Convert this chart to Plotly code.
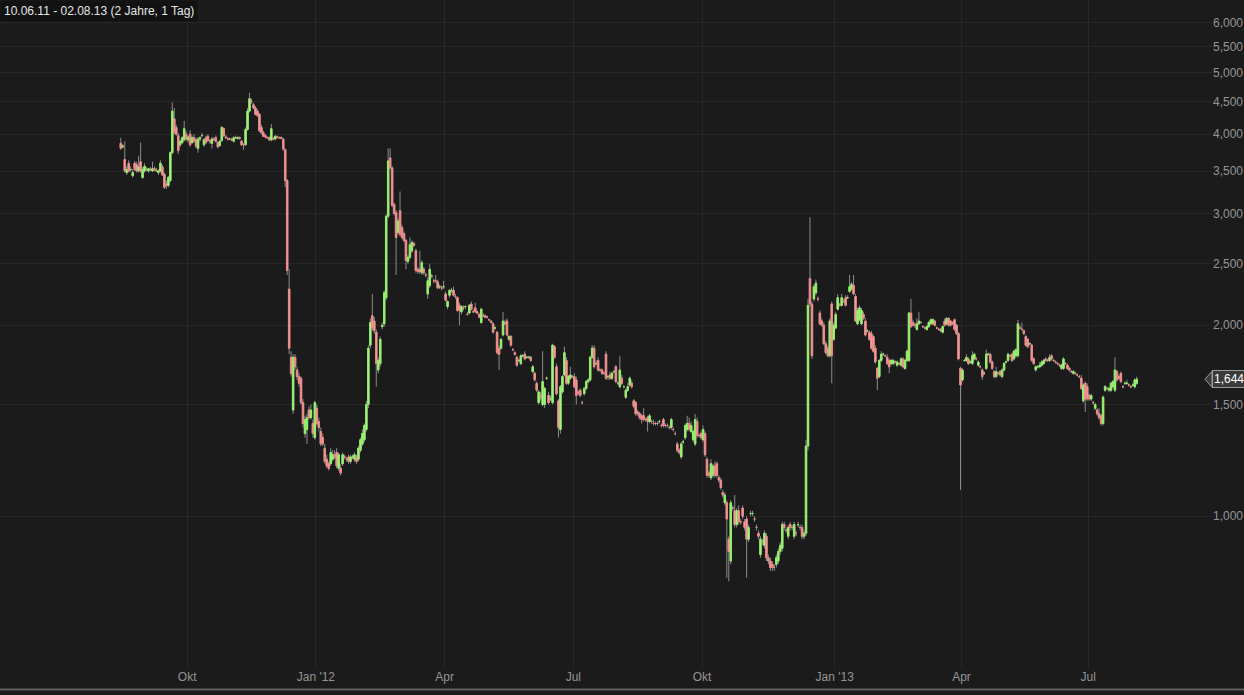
import math
import pandas as pd
import plotly.graph_objects as go

# ---------------- data (EUR, daily) ----------------
first_day = "2011-08-16"

opens = [
    3.87, 3.82, 3.65, 3.48, 3.60, 3.52, 3.44, 3.60, 3.58, 3.50,
    3.62, 3.42, 3.50, 3.52, 3.50, 3.52, 3.50, 3.53, 3.51, 3.48,
    3.50, 3.55, 3.46, 3.34, 3.32, 3.38, 3.74, 4.23, 4.10, 3.98,
    3.85, 3.88, 3.92, 4.00, 3.92, 4.00, 3.88, 3.95, 3.92, 3.80,
    3.93, 3.98, 3.85, 3.95, 3.97, 3.90, 3.87, 3.93, 3.95, 3.88,
    3.84, 3.91, 4.08, 3.96, 3.93, 3.93, 3.92, 3.90, 3.95, 3.94,
    3.95, 3.90, 3.85, 3.85, 4.07, 4.35, 4.50, 4.45, 4.40, 4.35,
    4.30, 4.10, 4.02, 3.98, 3.95, 3.95, 3.92, 3.93, 3.93, 3.96,
    3.95, 3.95, 3.93, 3.78, 3.38, 2.28, 1.78, 1.47, 1.78, 1.70,
    1.66, 1.65, 1.51, 1.35, 1.37, 1.47, 1.43, 1.40, 1.33, 1.48,
    1.41, 1.36, 1.33, 1.28, 1.23, 1.21, 1.21, 1.23, 1.25, 1.26,
    1.19, 1.19, 1.21, 1.24, 1.23, 1.24, 1.22, 1.24, 1.23, 1.24,
    1.23, 1.27, 1.30, 1.32, 1.37, 1.50, 1.86, 2.07, 2.03, 1.95,
    1.70, 1.74, 1.99, 2.01, 2.21, 2.97, 3.67, 3.54, 3.10, 3.01,
    2.80, 3.03, 2.85, 2.79, 2.72, 2.52, 2.56, 2.62, 2.69, 2.62,
    2.45, 2.45, 2.42, 2.45, 2.40, 2.24, 2.31, 2.39, 2.35, 2.35,
    2.34, 2.30, 2.29, 2.30, 2.24, 2.14, 2.23, 2.27, 2.27, 2.22,
    2.21, 2.15, 2.10, 2.13, 2.14, 2.08, 2.09, 2.16, 2.10, 2.13,
    2.10, 2.08, 2.02, 2.07, 2.07, 2.06, 2.04, 2.03, 2.01, 1.98,
    1.95, 1.84, 1.84, 1.93, 2.02, 2.03, 1.90, 1.92, 1.83, 1.81,
    1.78, 1.76, 1.74, 1.79, 1.80, 1.78, 1.78, 1.78, 1.69, 1.68,
    1.62, 1.51, 1.55, 1.50, 1.50, 1.65, 1.55, 1.53, 1.51, 1.85,
    1.72, 1.52, 1.37, 1.57, 1.67, 1.76, 1.62, 1.65, 1.66, 1.66,
    1.64, 1.57, 1.58, 1.51, 1.56, 1.59, 1.63, 1.64, 1.78, 1.84,
    1.74, 1.76, 1.70, 1.70, 1.68, 1.80, 1.66, 1.67, 1.65, 1.69,
    1.72, 1.62, 1.60, 1.65, 1.60, 1.54, 1.58, 1.61, 1.62, 1.52,
    1.51, 1.46, 1.45, 1.44, 1.44, 1.42, 1.43, 1.41, 1.41, 1.40,
    1.40, 1.40, 1.41, 1.39, 1.42, 1.39, 1.39, 1.38, 1.38, 1.37,
    1.35, 1.30, 1.27, 1.24, 1.31, 1.33, 1.37, 1.40, 1.36, 1.32,
    1.30, 1.41, 1.34, 1.35, 1.32, 1.35, 1.23, 1.17, 1.15, 1.16,
    1.20, 1.21, 1.15, 1.14, 1.09, 1.05, 1.05, 0.92, 0.85, 1.03,
    1.02, 0.97, 1.02, 0.98, 1.03, 0.98, 0.99, 0.92, 1.01, 1.01,
    0.99, 0.96, 0.94, 0.87, 0.91, 0.90, 0.93, 0.86, 0.85, 0.84,
    0.83, 0.84, 0.85, 0.88, 0.89, 0.97, 0.95, 0.93, 0.97, 0.96,
    0.93, 0.94, 0.97, 0.96, 0.96, 0.93, 0.94, 1.29, 2.37, 2.16,
    2.20, 2.25, 2.20, 2.09, 2.03, 2.00, 1.87, 1.84, 1.79, 2.16,
    1.90, 1.98, 2.12, 2.15, 2.15, 2.18, 2.21, 2.21, 2.26, 2.28,
    2.31, 2.22, 2.01, 2.04, 2.01, 2.08, 2.03, 1.96, 1.95, 1.94,
    1.92, 1.84, 1.71, 1.66, 1.76, 1.80, 1.79, 1.78, 1.76, 1.74,
    1.74, 1.75, 1.73, 1.74, 1.73, 1.77, 1.71, 1.76, 1.76, 2.09,
    2.02, 2.00, 1.97, 2.01, 2.02, 1.99, 1.98, 1.97, 1.99, 2.01,
    2.01, 2.03, 1.98, 1.97, 1.97, 1.95, 2.03, 2.01, 2.05, 2.03,
    2.02, 2.04, 2.00, 1.94, 1.71, 1.64, 1.76, 1.76, 1.77, 1.75,
    1.74, 1.77, 1.77, 1.73, 1.72, 1.70, 1.68, 1.71, 1.80, 1.80,
    1.75, 1.69, 1.66, 1.68, 1.69, 1.66, 1.70, 1.75, 1.76, 1.79,
    1.80, 1.77, 1.79, 1.79, 1.98, 1.97, 1.96, 1.92, 1.90, 1.87,
    1.86, 1.77, 1.70, 1.72, 1.72, 1.73, 1.74, 1.77, 1.76, 1.76,
    1.79, 1.76, 1.75, 1.74, 1.73, 1.71, 1.71, 1.74, 1.73, 1.71,
    1.69, 1.68, 1.68, 1.67, 1.66, 1.65, 1.52, 1.62, 1.60, 1.55,
    1.53, 1.51, 1.48, 1.47, 1.45, 1.44, 1.40, 1.58, 1.59, 1.58,
    1.58, 1.60, 1.58, 1.69, 1.66, 1.68, 1.60, 1.62, 1.62, 1.61,
    1.60, 1.61, 1.60, 1.62,
]

highs = [
    3.95, 3.86, 3.90, 3.56, 3.64, 3.56, 3.52, 3.63, 3.62, 3.70,
    3.88, 3.55, 3.60, 3.55, 3.54, 3.55, 3.62, 3.56, 3.54, 3.52,
    3.64, 3.58, 3.48, 3.38, 3.44, 3.76, 4.49, 4.40, 4.14, 4.02,
    3.92, 3.97, 4.20, 4.04, 3.98, 4.06, 3.98, 4.00, 3.95, 3.96,
    3.97, 4.02, 3.94, 3.98, 4.00, 3.93, 3.96, 3.96, 3.98, 3.90,
    3.92, 4.12, 4.10, 3.99, 3.96, 3.95, 3.95, 3.97, 3.98, 3.97,
    3.97, 3.92, 3.87, 4.10, 4.40, 4.65, 4.55, 4.48, 4.43, 4.38,
    4.32, 4.14, 4.05, 4.00, 3.97, 3.97, 4.15, 3.96, 3.99, 3.98,
    3.97, 3.97, 3.95, 3.80, 3.40, 2.45, 1.82, 1.80, 1.80, 1.72,
    1.68, 1.66, 1.53, 1.44, 1.45, 1.49, 1.50, 1.42, 1.52, 1.50,
    1.43, 1.38, 1.35, 1.30, 1.25, 1.22, 1.28, 1.27, 1.27, 1.28,
    1.26, 1.21, 1.26, 1.25, 1.24, 1.25, 1.25, 1.25, 1.26, 1.25,
    1.29, 1.33, 1.37, 1.40, 1.52, 1.86, 2.05, 2.24, 2.06, 1.97,
    1.78, 1.92, 2.02, 2.27, 2.99, 3.80, 3.80, 3.56, 3.12, 3.04,
    2.95, 3.25, 2.88, 2.81, 2.74, 2.58, 2.75, 2.72, 2.71, 2.64,
    2.47, 2.62, 2.53, 2.47, 2.42, 2.38, 2.50, 2.41, 2.37, 2.40,
    2.36, 2.32, 2.31, 2.35, 2.26, 2.19, 2.28, 2.29, 2.30, 2.24,
    2.22, 2.17, 2.15, 2.15, 2.15, 2.10, 2.16, 2.18, 2.12, 2.17,
    2.11, 2.09, 2.13, 2.09, 2.08, 2.07, 2.05, 2.04, 2.02, 1.99,
    1.96, 1.86, 1.91, 2.10, 2.04, 2.05, 1.93, 1.93, 1.84, 1.82,
    1.79, 1.77, 1.80, 1.80, 1.82, 1.79, 1.79, 1.79, 1.73, 1.69,
    1.63, 1.58, 1.57, 1.82, 1.60, 1.66, 1.57, 1.55, 1.87, 1.86,
    1.74, 1.53, 1.61, 1.67, 1.85, 1.78, 1.67, 1.72, 1.67, 1.68,
    1.66, 1.58, 1.59, 1.52, 1.60, 1.64, 1.65, 1.79, 1.86, 1.86,
    1.76, 1.78, 1.71, 1.71, 1.69, 1.82, 1.67, 1.69, 1.69, 1.70,
    1.73, 1.63, 1.79, 1.67, 1.61, 1.59, 1.62, 1.66, 1.64, 1.53,
    1.52, 1.47, 1.46, 1.45, 1.48, 1.43, 1.44, 1.45, 1.42, 1.42,
    1.41, 1.41, 1.42, 1.40, 1.43, 1.40, 1.40, 1.39, 1.43, 1.38,
    1.36, 1.31, 1.28, 1.31, 1.32, 1.40, 1.44, 1.43, 1.41, 1.37,
    1.45, 1.43, 1.35, 1.36, 1.39, 1.36, 1.24, 1.18, 1.23, 1.21,
    1.22, 1.22, 1.16, 1.15, 1.10, 1.09, 1.06, 0.93, 1.06, 1.04,
    1.08, 1.03, 1.04, 0.99, 1.04, 0.99, 1.00, 0.97, 1.02, 1.02,
    1.00, 0.97, 0.95, 0.93, 0.92, 0.95, 0.94, 0.87, 0.86, 0.85,
    0.84, 0.87, 0.89, 0.91, 0.98, 0.98, 0.96, 0.97, 0.98, 0.97,
    0.98, 0.95, 0.98, 0.97, 0.97, 0.95, 1.32, 2.20, 2.96, 2.18,
    2.32, 2.36, 2.22, 2.11, 2.05, 2.02, 1.89, 1.86, 2.05, 2.18,
    2.02, 2.10, 2.24, 2.17, 2.24, 2.20, 2.23, 2.23, 2.40, 2.34,
    2.40, 2.24, 2.13, 2.15, 2.13, 2.10, 2.05, 1.97, 1.96, 1.96,
    1.93, 1.86, 1.72, 1.77, 1.82, 1.81, 1.80, 1.80, 1.77, 1.77,
    1.77, 1.76, 1.76, 1.75, 1.78, 1.78, 1.77, 1.83, 2.10, 2.20,
    2.04, 2.02, 2.05, 2.10, 2.03, 2.00, 1.99, 2.00, 2.03, 2.05,
    2.05, 2.04, 1.99, 1.98, 1.98, 2.00, 2.05, 2.06, 2.06, 2.04,
    2.03, 2.05, 2.01, 1.95, 1.72, 1.71, 1.77, 1.80, 1.78, 1.76,
    1.82, 1.81, 1.78, 1.76, 1.73, 1.71, 1.69, 1.83, 1.81, 1.81,
    1.76, 1.70, 1.72, 1.69, 1.70, 1.71, 1.75, 1.76, 1.81, 1.80,
    1.81, 1.83, 1.84, 2.04, 2.00, 2.02, 1.97, 1.93, 1.91, 1.88,
    1.87, 1.78, 1.73, 1.73, 1.75, 1.76, 1.77, 1.78, 1.77, 1.80,
    1.80, 1.77, 1.76, 1.75, 1.74, 1.74, 1.78, 1.75, 1.74, 1.72,
    1.70, 1.70, 1.69, 1.68, 1.67, 1.67, 1.62, 1.63, 1.62, 1.56,
    1.56, 1.52, 1.51, 1.48, 1.48, 1.45, 1.55, 1.61, 1.60, 1.60,
    1.63, 1.64, 1.78, 1.70, 1.67, 1.69, 1.61, 1.63, 1.64, 1.62,
    1.61, 1.62, 1.65, 1.66,
]

lows = [
    3.78, 3.80, 3.48, 3.45, 3.48, 3.49, 3.42, 3.50, 3.48, 3.48,
    3.48, 3.40, 3.48, 3.50, 3.48, 3.50, 3.49, 3.50, 3.49, 3.45,
    3.48, 3.44, 3.28, 3.28, 3.30, 3.36, 3.72, 4.00, 3.98, 3.72,
    3.82, 3.86, 3.90, 3.90, 3.88, 3.82, 3.86, 3.88, 3.80, 3.74,
    3.90, 3.96, 3.82, 3.86, 3.89, 3.86, 3.80, 3.90, 3.88, 3.80,
    3.82, 3.89, 3.96, 3.93, 3.91, 3.91, 3.90, 3.88, 3.93, 3.92,
    3.92, 3.83, 3.78, 3.84, 4.05, 4.33, 4.47, 4.38, 4.28, 4.26,
    4.03, 4.00, 3.96, 3.94, 3.93, 3.90, 3.90, 3.91, 3.92, 3.94,
    3.93, 3.93, 3.77, 3.30, 2.40, 1.80, 1.66, 1.45, 1.70, 1.64,
    1.60, 1.50, 1.38, 1.33, 1.30, 1.42, 1.42, 1.33, 1.32, 1.39,
    1.36, 1.29, 1.29, 1.21, 1.19, 1.18, 1.20, 1.22, 1.23, 1.19,
    1.18, 1.16, 1.20, 1.23, 1.22, 1.21, 1.21, 1.23, 1.22, 1.21,
    1.22, 1.26, 1.29, 1.31, 1.36, 1.48, 1.84, 1.96, 1.94, 1.60,
    1.68, 1.72, 1.97, 1.99, 2.19, 2.95, 3.52, 3.07, 2.98, 2.40,
    2.78, 2.76, 2.73, 2.70, 2.45, 2.50, 2.54, 2.60, 2.66, 2.42,
    2.41, 2.41, 2.40, 2.40, 2.38, 2.20, 2.29, 2.37, 2.33, 2.33,
    2.28, 2.28, 2.27, 2.28, 2.18, 2.12, 2.21, 2.25, 2.22, 2.20,
    2.10, 2.00, 2.08, 2.11, 2.12, 2.07, 2.08, 2.11, 2.09, 2.09,
    2.08, 2.05, 2.01, 2.06, 2.05, 2.05, 2.03, 2.01, 1.94, 1.97,
    1.80, 1.70, 1.83, 1.92, 2.00, 1.92, 1.89, 1.85, 1.82, 1.79,
    1.72, 1.75, 1.73, 1.78, 1.76, 1.77, 1.77, 1.75, 1.68, 1.63,
    1.57, 1.50, 1.52, 1.49, 1.48, 1.64, 1.50, 1.52, 1.50, 1.77,
    1.55, 1.33, 1.35, 1.56, 1.66, 1.61, 1.61, 1.64, 1.65, 1.59,
    1.50, 1.55, 1.54, 1.50, 1.55, 1.58, 1.62, 1.63, 1.77, 1.71,
    1.73, 1.69, 1.69, 1.67, 1.67, 1.64, 1.64, 1.64, 1.64, 1.68,
    1.62, 1.61, 1.59, 1.61, 1.59, 1.53, 1.57, 1.60, 1.59, 1.48,
    1.44, 1.44, 1.42, 1.40, 1.41, 1.41, 1.36, 1.40, 1.40, 1.39,
    1.39, 1.39, 1.40, 1.38, 1.38, 1.38, 1.38, 1.37, 1.37, 1.36,
    1.34, 1.26, 1.25, 1.23, 1.30, 1.32, 1.36, 1.36, 1.35, 1.31,
    1.29, 1.33, 1.33, 1.32, 1.31, 1.24, 1.15, 1.15, 1.14, 1.15,
    1.15, 1.15, 1.13, 1.10, 1.07, 1.04, 0.80, 0.79, 0.84, 1.02,
    0.96, 0.96, 0.97, 0.97, 0.99, 0.95, 0.80, 0.91, 1.00, 1.00,
    0.98, 0.95, 0.92, 0.86, 0.90, 0.89, 0.85, 0.84, 0.82, 0.82,
    0.82, 0.83, 0.84, 0.87, 0.88, 0.95, 0.94, 0.92, 0.95, 0.95,
    0.92, 0.93, 0.96, 0.95, 0.92, 0.92, 0.93, 1.27, 2.14, 1.77,
    2.18, 2.23, 2.18, 2.00, 1.99, 1.86, 1.80, 1.78, 1.78, 1.62,
    1.89, 1.97, 2.11, 2.14, 2.14, 2.17, 2.14, 2.20, 2.25, 2.27,
    2.23, 2.03, 2.00, 2.03, 2.00, 2.04, 1.92, 1.95, 1.89, 1.83,
    1.81, 1.74, 1.58, 1.65, 1.75, 1.79, 1.78, 1.73, 1.68, 1.73,
    1.73, 1.74, 1.72, 1.73, 1.72, 1.71, 1.70, 1.75, 1.75, 1.98,
    1.99, 1.98, 1.96, 2.00, 2.01, 1.98, 1.97, 1.96, 1.98, 2.00,
    2.00, 1.99, 1.97, 1.96, 1.95, 1.94, 1.99, 2.00, 1.99, 1.99,
    2.00, 1.96, 1.93, 1.76, 1.10, 1.63, 1.75, 1.75, 1.73, 1.74,
    1.73, 1.76, 1.76, 1.72, 1.71, 1.64, 1.67, 1.70, 1.79, 1.74,
    1.70, 1.65, 1.65, 1.67, 1.66, 1.65, 1.69, 1.74, 1.75, 1.78,
    1.75, 1.76, 1.78, 1.78, 1.97, 1.96, 1.93, 1.85, 1.84, 1.86,
    1.75, 1.73, 1.69, 1.71, 1.71, 1.72, 1.73, 1.75, 1.75, 1.75,
    1.76, 1.75, 1.74, 1.73, 1.72, 1.70, 1.70, 1.73, 1.70, 1.69,
    1.68, 1.67, 1.67, 1.66, 1.65, 1.58, 1.51, 1.46, 1.52, 1.52,
    1.52, 1.50, 1.47, 1.44, 1.42, 1.39, 1.39, 1.57, 1.58, 1.57,
    1.57, 1.59, 1.57, 1.63, 1.64, 1.62, 1.59, 1.61, 1.61, 1.60,
    1.59, 1.60, 1.59, 1.61,
]

closes = [
    3.80, 3.83, 3.50, 3.52, 3.50, 3.52, 3.48, 3.52, 3.50, 3.55,
    3.50, 3.52, 3.56, 3.52, 3.53, 3.52, 3.53, 3.52, 3.50, 3.50,
    3.60, 3.45, 3.30, 3.32, 3.42, 3.74, 4.35, 4.02, 4.00, 3.77,
    3.90, 3.95, 4.08, 3.93, 3.96, 3.85, 3.95, 3.90, 3.83, 3.93,
    3.95, 3.98, 3.92, 3.88, 3.91, 3.90, 3.93, 3.92, 3.90, 3.82,
    3.90, 4.10, 3.98, 3.95, 3.93, 3.93, 3.92, 3.95, 3.95, 3.95,
    3.94, 3.85, 3.85, 4.07, 4.35, 4.55, 4.50, 4.40, 4.30, 4.28,
    4.05, 4.02, 3.97, 3.96, 3.95, 3.92, 4.08, 3.93, 3.97, 3.96,
    3.95, 3.94, 3.79, 3.38, 2.44, 1.84, 1.68, 1.78, 1.72, 1.66,
    1.62, 1.51, 1.40, 1.42, 1.43, 1.43, 1.47, 1.35, 1.51, 1.40,
    1.38, 1.30, 1.30, 1.22, 1.20, 1.19, 1.26, 1.25, 1.24, 1.20,
    1.25, 1.17, 1.25, 1.24, 1.23, 1.22, 1.24, 1.24, 1.25, 1.22,
    1.28, 1.32, 1.35, 1.39, 1.50, 1.84, 2.02, 1.98, 1.96, 1.74,
    1.76, 1.90, 2.00, 2.25, 2.97, 3.63, 3.54, 3.09, 3.00, 2.75,
    2.92, 2.78, 2.75, 2.72, 2.53, 2.56, 2.68, 2.70, 2.67, 2.44,
    2.43, 2.43, 2.51, 2.42, 2.40, 2.35, 2.45, 2.39, 2.35, 2.35,
    2.29, 2.30, 2.29, 2.30, 2.19, 2.18, 2.27, 2.27, 2.23, 2.22,
    2.11, 2.11, 2.14, 2.13, 2.14, 2.08, 2.15, 2.12, 2.10, 2.10,
    2.09, 2.06, 2.12, 2.07, 2.06, 2.06, 2.04, 2.02, 1.95, 1.98,
    1.81, 1.80, 1.90, 2.03, 2.01, 1.93, 1.92, 1.86, 1.83, 1.80,
    1.73, 1.76, 1.79, 1.79, 1.77, 1.78, 1.78, 1.76, 1.72, 1.64,
    1.58, 1.57, 1.54, 1.63, 1.59, 1.65, 1.51, 1.53, 1.86, 1.78,
    1.56, 1.38, 1.60, 1.66, 1.81, 1.62, 1.66, 1.67, 1.66, 1.60,
    1.55, 1.56, 1.55, 1.51, 1.59, 1.63, 1.64, 1.78, 1.84, 1.72,
    1.74, 1.70, 1.70, 1.68, 1.68, 1.65, 1.66, 1.65, 1.68, 1.69,
    1.63, 1.62, 1.70, 1.62, 1.60, 1.58, 1.60, 1.65, 1.60, 1.49,
    1.45, 1.45, 1.43, 1.42, 1.42, 1.42, 1.41, 1.44, 1.41, 1.40,
    1.40, 1.40, 1.41, 1.39, 1.39, 1.39, 1.39, 1.38, 1.42, 1.37,
    1.35, 1.27, 1.26, 1.30, 1.31, 1.39, 1.40, 1.37, 1.39, 1.36,
    1.42, 1.34, 1.34, 1.33, 1.37, 1.25, 1.16, 1.16, 1.21, 1.20,
    1.16, 1.16, 1.14, 1.11, 1.08, 1.08, 0.99, 0.88, 1.05, 1.03,
    0.97, 1.02, 0.98, 0.98, 1.00, 0.96, 0.92, 0.96, 1.01, 1.01,
    0.99, 0.96, 0.93, 0.92, 0.91, 0.94, 0.86, 0.85, 0.83, 0.83,
    0.83, 0.86, 0.88, 0.90, 0.97, 0.96, 0.95, 0.96, 0.96, 0.96,
    0.97, 0.94, 0.97, 0.96, 0.93, 0.94, 1.29, 2.15, 2.16, 1.79,
    2.30, 2.33, 2.20, 2.01, 2.00, 1.87, 1.81, 1.79, 2.03, 1.79,
    2.00, 2.08, 2.21, 2.15, 2.21, 2.18, 2.15, 2.21, 2.30, 2.32,
    2.24, 2.03, 2.11, 2.13, 2.11, 2.05, 1.93, 1.96, 1.90, 1.84,
    1.82, 1.75, 1.65, 1.76, 1.80, 1.80, 1.79, 1.74, 1.72, 1.76,
    1.76, 1.75, 1.75, 1.74, 1.77, 1.72, 1.76, 1.82, 2.09, 1.99,
    2.00, 2.00, 2.01, 2.03, 2.02, 1.99, 1.98, 1.99, 2.02, 2.04,
    2.04, 2.00, 1.98, 1.97, 1.96, 1.99, 2.00, 2.05, 2.00, 2.00,
    2.01, 1.97, 1.94, 1.77, 1.61, 1.70, 1.76, 1.78, 1.74, 1.75,
    1.79, 1.80, 1.77, 1.75, 1.72, 1.66, 1.68, 1.80, 1.80, 1.75,
    1.71, 1.66, 1.69, 1.68, 1.67, 1.70, 1.74, 1.75, 1.80, 1.79,
    1.76, 1.82, 1.83, 2.01, 1.98, 1.97, 1.94, 1.86, 1.85, 1.87,
    1.76, 1.74, 1.72, 1.72, 1.73, 1.75, 1.76, 1.76, 1.76, 1.78,
    1.77, 1.76, 1.75, 1.74, 1.73, 1.73, 1.77, 1.74, 1.71, 1.70,
    1.69, 1.69, 1.68, 1.67, 1.66, 1.59, 1.61, 1.53, 1.53, 1.53,
    1.55, 1.51, 1.50, 1.45, 1.43, 1.40, 1.54, 1.60, 1.59, 1.59,
    1.62, 1.63, 1.70, 1.64, 1.65, 1.63, 1.60, 1.62, 1.62, 1.61,
    1.60, 1.61, 1.64, 1.644,
]

price_ticks = [1.0, 1.5, 2.0, 2.5, 3.0, 3.5, 4.0, 4.5, 5.0, 5.5, 6.0, 6.5]
price_tick_labels = ["1,000", "1,500", "2,000", "2,500", "3,000", "3,500",
                     "4,000", "4,500", "5,000", "5,500", "6,000", "6,500"]
month_ticks = ["2011-10-03", "2012-01-02", "2012-04-02", "2012-07-02",
               "2012-10-01", "2013-01-02", "2013-04-02", "2013-07-01"]
month_labels = ["Okt", "Jan '12", "Apr", "Jul", "Okt", "Jan '13", "Apr", "Jul"]
title_text = "10.06.11 - 02.08.13 (2 Jahre, 1 Tag)"
last_label = "1,644"

assert len(opens) == len(highs) == len(lows) == len(closes), (
    len(opens), len(highs), len(lows), len(closes))

# trading days (noon timestamps so bodies sit centred on each weekday)
dates = pd.bdate_range(first_day, periods=len(closes)) + pd.Timedelta(hours=12)
body_hi = [max(o, c) for o, c in zip(opens, closes)]
body_lo = [min(o, c) for o, c in zip(opens, closes)]

BG = "#1c1b1b"
GRID = "#282727"
WICK = "#8c8c8c"
UP_LINE, UP_FILL = "#8ef062", "#b8f59a"
DN_LINE, DN_FILL = "#f08484", "#f6b4b4"
TICK_COLOR = "#959595"

fig = go.Figure()
# wicks (grey)
fig.add_trace(go.Candlestick(
    x=dates, open=opens, high=highs, low=lows, close=closes,
    increasing=dict(line=dict(color=WICK, width=1), fillcolor=WICK),
    decreasing=dict(line=dict(color=WICK, width=1), fillcolor=WICK),
    hoverinfo="skip", showlegend=False))
# coloured bodies
fig.add_trace(go.Candlestick(
    x=dates, open=opens, high=body_hi, low=body_lo, close=closes,
    increasing=dict(line=dict(color=UP_LINE, width=1), fillcolor=UP_FILL),
    decreasing=dict(line=dict(color=DN_LINE, width=1), fillcolor=DN_FILL),
    showlegend=False))

ymin, ymax = 0.5765, 6.51
ly0, ly1 = math.log10(ymin), math.log10(ymax)
last_paper_y = (math.log10(closes[-1]) - ly0) / (ly1 - ly0)

fig.update_layout(
    width=1244, height=695,
    margin=dict(l=0, r=32, t=0, b=27),
    paper_bgcolor=BG, plot_bgcolor=BG,
    boxgap=0.0,
    showlegend=False,
    font=dict(family="Liberation Sans, Arial", size=12, color=TICK_COLOR),
    xaxis=dict(
        type="date",
        range=["2011-05-23 12:00", "2013-09-25 12:00"],
        rangebreaks=[dict(bounds=["sat", "mon"])],
        rangeslider=dict(visible=False),
        tickvals=month_ticks, ticktext=month_labels,
        showgrid=True, gridcolor=GRID, gridwidth=1,
        zeroline=False, showline=False, ticks="",
        tickfont=dict(family="Liberation Sans, Arial", size=12, color=TICK_COLOR),
    ),
    yaxis=dict(
        type="log", side="right",
        range=[ly0, ly1],
        tickvals=price_ticks, ticktext=price_tick_labels,
        showgrid=True, gridcolor=GRID, gridwidth=1,
        zeroline=False, showline=False, ticks="",
        tickfont=dict(family="Liberation Sans, Arial", size=12, color=TICK_COLOR),
    ),
    annotations=[
        dict(text=title_text, xref="paper", yref="paper", x=0, y=1,
             xanchor="left", yanchor="top", showarrow=False,
             bgcolor="#121212", borderpad=3,
             font=dict(family="Liberation Sans, Arial", size=12, color="#e6e6e6")),
        dict(text=last_label, xref="paper", yref="paper", x=1,
             y=last_paper_y, xanchor="left", yanchor="middle",
             xshift=0, showarrow=False, bgcolor="#3a3a3a",
             bordercolor="#9a9a9a", borderwidth=1, borderpad=1,
             font=dict(family="Liberation Sans, Arial", size=12, color="#ffffff")),
    ],
    shapes=[
        dict(type="line", xref="paper", yref="paper", x0=0, x1=1.03,
             y0=-0.032, y1=-0.032, line=dict(color="#5f5f5f", width=2)),
        dict(type="path", xref="paper", yref="paper",
             xsizemode="pixel", ysizemode="pixel",
             xanchor=1, yanchor=last_paper_y,
             path="M -7 0 L 0 8 L 0 -8 Z",
             fillcolor="#3a3a3a", line=dict(color="#9a9a9a", width=1)),
    ],
)

fig.write_html("out.html",
               config={"displayModeBar": False},
               post_script="document.body.style.margin='0';"
                           "document.body.style.background='%s';" % BG)
